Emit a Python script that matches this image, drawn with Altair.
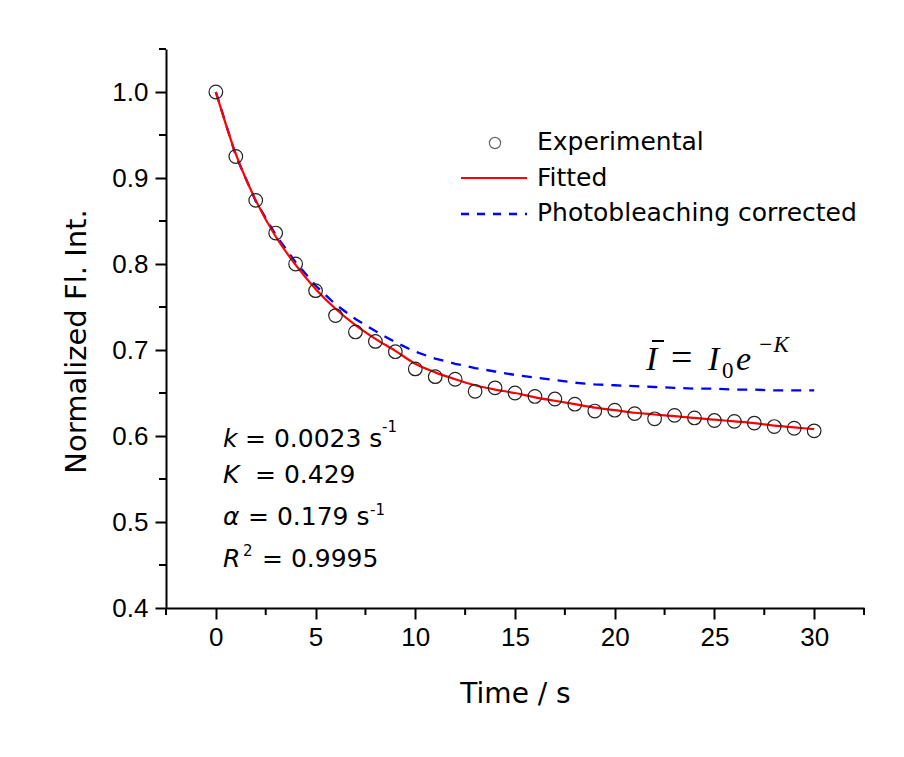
import altair as alt
import pandas as pd

# ---------------- data ----------------
time_s = list(range(31))
experimental = [1.000, 0.925, 0.874, 0.836, 0.800, 0.769, 0.740, 0.721, 0.710, 0.698,
                0.678, 0.669, 0.666, 0.652, 0.656, 0.650, 0.646, 0.643, 0.637, 0.629,
                0.630, 0.626, 0.620, 0.624, 0.621, 0.618, 0.617, 0.615, 0.611, 0.609, 0.606]
fitted = [1.000, 0.928, 0.874, 0.832, 0.799, 0.771, 0.748, 0.729, 0.713, 0.699,
          0.684, 0.674, 0.666, 0.659, 0.654, 0.650, 0.645, 0.641, 0.637, 0.633,
          0.630, 0.627, 0.625, 0.623, 0.621, 0.619, 0.617, 0.615, 0.612, 0.610, 0.608]
corrected = [1.000, 0.926, 0.873, 0.834, 0.802, 0.775, 0.753, 0.736, 0.722, 0.709,
             0.698, 0.690, 0.684, 0.679, 0.675, 0.671, 0.668, 0.665, 0.662, 0.660,
             0.659, 0.658, 0.657, 0.656, 0.655, 0.655, 0.654, 0.654, 0.653, 0.653, 0.653]

x_major = [0, 5, 10, 15, 20, 25, 30]
x_minor = [-2.5, 2.5, 7.5, 12.5, 17.5, 22.5, 27.5, 32.5]
y_major = [0.4, 0.5, 0.6, 0.7, 0.8, 0.9, 1.0]
y_minor = [0.45, 0.55, 0.65, 0.75, 0.85, 0.95, 1.05]

legend_labels = ["Experimental", "Fitted", "Photobleaching corrected"]

W, H = 698, 559
SANS = "DejaVu Sans"

df = pd.DataFrame({"t": time_s, "exp": experimental, "fit": fitted, "corr": corrected})

xs = alt.Scale(domain=[-2.5, 32.5], nice=False, zero=False)
ys = alt.Scale(domain=[0.4, 1.05], nice=False, zero=False)

xaxis = alt.Axis(values=x_major, title="Time / s", titleFont=SANS, titleFontSize=28,
                 titleFontWeight="normal", titleColor="black",
                 titleBaseline="alphabetic", titleY=94,
                 labelFont="Liberation Sans", labelFontSize=26, labelColor="black",
                 labelPadding=5, tickSize=11, tickWidth=2, tickColor="black",
                 domainWidth=2, domainColor="black", grid=False, labelFlush=False)
yaxis = alt.Axis(values=y_major, format=".1f", title="Normalized Fl. Int.",
                 titleFont=SANS, titleFontSize=29, titleFontWeight="normal",
                 titleColor="black", titleBaseline="alphabetic",
                 titleX=-81, titleY=292, titleAngle=270,
                 labelFont="Liberation Sans", labelFontSize=26, labelColor="black",
                 labelPadding=7, tickSize=11, tickWidth=2, tickColor="black",
                 domainWidth=2, domainColor="black", grid=False, labelFlush=False)

base = alt.Chart(df)

corr_line = base.mark_line(color="#0000ff", strokeWidth=2.3, strokeDash=[10, 8]).encode(
    x=alt.X("t:Q", scale=xs, axis=xaxis),
    y=alt.Y("corr:Q", scale=ys, axis=yaxis),
)
fit_line = base.mark_line(color="#ff0000", strokeWidth=2.2, interpolate="monotone").encode(
    x=alt.X("t:Q", scale=xs), y=alt.Y("fit:Q", scale=ys))
points = base.mark_point(shape="circle", filled=False, size=185, stroke="#222222",
                         strokeWidth=1.2, opacity=1).encode(
    x=alt.X("t:Q", scale=xs), y=alt.Y("exp:Q", scale=ys))

# minor ticks
ymin_df = pd.DataFrame({"v": y_minor})
xmin_df = pd.DataFrame({"v": x_minor})
y_minor_ticks = alt.Chart(ymin_df).mark_rule(color="black", strokeWidth=2).encode(
    y=alt.Y("v:Q", scale=ys), x=alt.value(-7), x2=alt.value(0))
x_minor_ticks = alt.Chart(xmin_df).mark_rule(color="black", strokeWidth=2).encode(
    x=alt.X("v:Q", scale=xs), y=alt.value(H), y2=alt.value(H + 7))

one = pd.DataFrame({"a": [0]})


def txt(s, x, y, size=25, font=SANS, style="normal", baseline="alphabetic", align="left"):
    return alt.Chart(one).mark_text(
        text=s, font=font, fontSize=size, fontStyle=style, baseline=baseline,
        align=align, color="black"
    ).encode(x=alt.value(x), y=alt.value(y))


# legend (custom, as in the reference)
leg_circle = alt.Chart(one).mark_point(shape="circle", filled=False, size=125,
                                       stroke="#222222", strokeWidth=1.2).encode(
    x=alt.value(329), y=alt.value(94))
leg_red = alt.Chart(one).mark_rule(color="#ff0000", strokeWidth=2.2).encode(
    x=alt.value(295), x2=alt.value(361), y=alt.value(129))
leg_blue = alt.Chart(one).mark_rule(color="#0000ff", strokeWidth=2.3, strokeDash=[8, 8]).encode(
    x=alt.value(295), x2=alt.value(361), y=alt.value(165))
leg_texts = [
    txt(legend_labels[0], 371, 93, baseline="middle"),
    txt(legend_labels[1], 371, 129, baseline="middle"),
    txt(legend_labels[2], 371, 164, baseline="middle"),
]

# formula  I-bar = I0 e^-K
SERIF = "Liberation Serif"
formula = [
    txt("I", 480, 321, size=34, font=SERIF, style="italic"),
    alt.Chart(one).mark_rule(color="black", strokeWidth=2).encode(
        x=alt.value(486), x2=alt.value(498), y=alt.value(292)),
    txt("=", 505, 321, size=38, font=SERIF),
    txt("I", 542, 321, size=34, font=SERIF, style="italic"),
    txt("0", 556, 329, size=23, font=SERIF),
    txt("e", 570, 321, size=34, font=SERIF, style="italic"),
    txt("\u2212K", 592, 303, size=23, font=SERIF, style="italic"),
]

# fit statistics
stats = [
    txt("k", 57, 398, style="italic"),
    txt("= 0.0023 s", 79, 398),
    txt("-1", 216, 383, size=15),
    txt("K", 57, 434, style="italic"),
    txt("= 0.429", 89, 434),
    txt("\u03b1", 57, 476, style="italic"),
    txt("= 0.179 s", 82, 476),
    txt("-1", 204, 466, size=15),
    txt("R", 57, 518, style="italic"),
    txt("2", 77, 507, size=15),
    txt("= 0.9995", 96, 518),
]

chart = alt.layer(
    corr_line, fit_line, points, y_minor_ticks, x_minor_ticks,
    leg_circle, leg_red, leg_blue, *leg_texts, *formula, *stats
).properties(
    width=W, height=H,
    autosize=alt.AutoSizeParams(type="none"),
    padding={"left": 166, "top": 49, "right": 40, "bottom": 149},
    background="white",
).configure_view(stroke=None)

chart.save("out.html", embed_options={"renderer": "svg", "actions": False})
